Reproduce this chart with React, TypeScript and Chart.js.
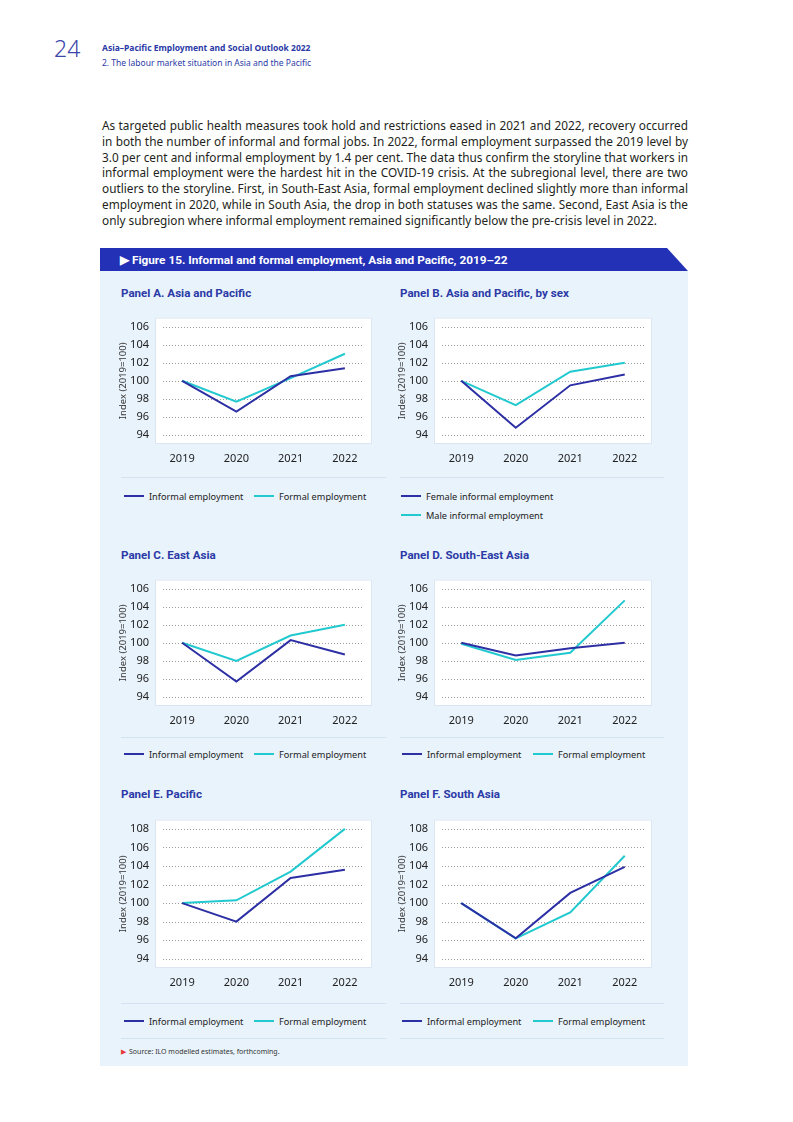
import React, { useEffect, useRef } from "react";
import { Chart, registerables } from "chart.js";

Chart.register(...registerables);
Chart.defaults.font.family = "'Noto Sans', sans-serif";

// ---------- data ----------
const YEARS = ["2019", "2020", "2021", "2022"];
const TICKS_SHORT = [94, 96, 98, 100, 102, 104, 106];
const TICKS_TALL = [94, 96, 98, 100, 102, 104, 106, 108];

const A_INFORMAL = [100, 96.6, 100.5, 101.4];
const A_FORMAL = [100, 97.7, 100.3, 103.0];
const B_FEMALE = [100, 94.8, 99.5, 100.7];
const B_MALE = [100, 97.3, 101.0, 102.0];
const C_INFORMAL = [100, 95.7, 100.3, 98.7];
const C_FORMAL = [100, 98.0, 100.8, 102.0];
const D_INFORMAL = [100, 98.6, 99.4, 100.0];
const D_FORMAL = [99.9, 98.1, 98.9, 104.7];
const E_INFORMAL = [100, 98.0, 102.7, 103.6];
const E_FORMAL = [100, 100.3, 103.4, 108.0];
const F_INFORMAL = [100, 96.2, 101.1, 103.9];
const F_FORMAL = [100, 96.2, 99.0, 105.1];

const DARK = "#2d30a4";
const CYAN = "#22c9cf";
const TITLE_BLUE = "#2b3aa6";
const BAR_BLUE = "#2231b6";
const BG = "#e9f3fc";
const SEP = "#d3e2f1";

type Series = { label: string; data: number[]; color: string };

const plotBox = {
  id: "plotBox",
  beforeDatasetsDraw(chart: any) {
    const { ctx, chartArea } = chart;
    const { left, right, top, bottom } = chartArea;
    ctx.save();
    ctx.fillStyle = "#ffffff";
    ctx.fillRect(left, top, right - left, bottom - top);
    ctx.strokeStyle = "#dbe6f2";
    ctx.lineWidth = 1;
    ctx.strokeRect(left + 0.5, top + 0.5, right - left - 1, bottom - top - 1);
    const y = chart.scales.y;
    ctx.strokeStyle = "#9a9a9a";
    ctx.setLineDash([1, 2]);
    y.ticks.forEach((t: any) => {
      const py = Math.round(y.getPixelForValue(t.value)) + 0.5;
      ctx.beginPath();
      ctx.moveTo(left + 8, py);
      ctx.lineTo(right - 8, py);
      ctx.stroke();
    });
    ctx.restore();
  },
};

function Panel(props: {
  left: number;
  top: number;
  width: number;
  height: number;
  padRight: number;
  min: number;
  max: number;
  ticks: number[];
  series: Series[];
}) {
  const ref = useRef<HTMLCanvasElement>(null);
  useEffect(() => {
    const chart = new Chart(ref.current as HTMLCanvasElement, {
      type: "line",
      data: {
        labels: YEARS,
        datasets: props.series.map((s) => ({
          label: s.label,
          data: s.data,
          borderColor: s.color,
          backgroundColor: s.color,
          borderWidth: 2,
          pointRadius: 0,
          tension: 0,
          fill: false,
        })),
      },
      options: {
        animation: false,
        responsive: false,
        maintainAspectRatio: false,
        layout: { padding: { top: 5, right: props.padRight, bottom: 0, left: 0 } },
        plugins: { legend: { display: false }, tooltip: { enabled: false } },
        scales: {
          x: {
            offset: true,
            grid: { display: false, drawTicks: false },
            border: { display: false },
            ticks: { padding: 8, color: "#222", font: { size: 11 } },
            afterFit: (s: any) => {
              s.height = 30;
            },
          },
          y: {
            min: props.min,
            max: props.max,
            grid: { display: false, drawTicks: false },
            border: { display: false },
            afterBuildTicks: (s: any) => {
              s.ticks = props.ticks.map((v) => ({ value: v }));
            },
            ticks: { padding: 6, color: "#222", font: { size: 11 } },
            title: {
              display: true,
              text: "Index (2019=100)",
              color: "#333",
              font: { size: 9.5 },
              padding: { top: 8, bottom: 0 },
            },
            afterFit: (s: any) => {
              s.width = 45;
            },
          },
        },
      } as any,
      plugins: [plotBox],
    });
    return () => chart.destroy();
  }, []);
  return (
    <canvas
      ref={ref}
      width={props.width}
      height={props.height}
      style={{
        position: "absolute",
        left: props.left,
        top: props.top,
        width: props.width,
        height: props.height,
      }}
    />
  );
}

function LegendItem(props: { x: number; y: number; color: string; text: string }) {
  return (
    <div
      style={{
        position: "absolute",
        left: props.x,
        top: props.y - 8,
        height: 16,
        display: "flex",
        alignItems: "center",
        whiteSpace: "nowrap",
        fontSize: 9.2,
        color: "#222",
      }}
    >
      <span style={{ display: "inline-block", width: 20, height: 2, background: props.color, marginRight: 5 }} />
      <span>{props.text}</span>
    </div>
  );
}

function Sep(props: { x: number; y: number; w: number }) {
  return <div style={{ position: "absolute", left: props.x, top: props.y, width: props.w, height: 1, background: SEP }} />;
}

function PanelTitle(props: { x: number; y: number; text: string }) {
  return (
    <div
      style={{
        position: "absolute",
        left: props.x,
        top: props.y - 8,
        fontFamily: "Roboto, 'Noto Sans', sans-serif",
        fontWeight: 700,
        fontSize: 11.6,
        color: TITLE_BLUE,
        whiteSpace: "nowrap",
        lineHeight: "16px",
      }}
    >
      {props.text}
    </div>
  );
}

const PARA =
  "As targeted public health measures took hold and restrictions eased in 2021 and 2022, recovery occurred in both the number of informal and formal jobs. In 2022, formal employment surpassed the 2019 level by 3.0 per cent and informal employment by 1.4 per cent. The data thus confirm the storyline that workers in informal employment were the hardest hit in the COVID-19 crisis. At the subregional level, there are two outliers to the storyline. First, in South-East Asia, formal employment declined slightly more than informal employment in 2020, while in South Asia, the drop in both statuses was the same. Second, East Asia is the only subregion where informal employment remained significantly below the pre-crisis level in 2022.";

export default function App() {
  const LX = 110;
  const RX = 389;
  return (
    <div
      style={{
        position: "absolute",
        left: 0,
        top: 0,
        width: 793,
        height: 1122,
        background: "#fff",
        overflow: "hidden",
        fontFamily: "'Noto Sans', sans-serif",
      }}
    >
      {/* header */}
      <div style={{ position: "absolute", left: 54, top: 33, fontSize: 23, fontWeight: 300, color: "#3a45a8", lineHeight: "30px" }}>24</div>
      <div style={{ position: "absolute", left: 102, top: 41, fontSize: 8.5, fontWeight: 700, color: TITLE_BLUE, lineHeight: "14px", whiteSpace: "nowrap" }}>
        Asia–Pacific Employment and Social Outlook 2022
      </div>
      <div style={{ position: "absolute", left: 102, top: 56, fontSize: 8.5, color: TITLE_BLUE, lineHeight: "14px", whiteSpace: "nowrap" }}>
        2. The labour market situation in Asia and the Pacific
      </div>

      {/* paragraph */}
      <div
        style={{
          position: "absolute",
          left: 102,
          top: 118,
          width: 586,
          fontSize: 11.8,
          lineHeight: "15.8px",
          textAlign: "justify",
          color: "#231f20",
        }}
      >
        {PARA}
      </div>

      {/* figure background */}
      <div style={{ position: "absolute", left: 100, top: 271, width: 588, height: 795, background: BG }} />
      <div
        style={{
          position: "absolute",
          left: 100,
          top: 248,
          width: 588,
          height: 23,
          background: BAR_BLUE,
          clipPath: "polygon(0 0, 567px 0, 588px 23px, 0 23px)",
        }}
      />
      <div
        style={{
          position: "absolute",
          left: 120,
          top: 252,
          color: "#fff",
          fontFamily: "Roboto, 'Noto Sans', sans-serif",
          fontWeight: 700,
          fontSize: 11.8,
          lineHeight: "16px",
          whiteSpace: "nowrap",
        }}
      >
        ▶ Figure 15. Informal and formal employment, Asia and Pacific, 2019–22
      </div>

      {/* row 1 */}
      <PanelTitle x={121} y={293} text="Panel A. Asia and Pacific" />
      <PanelTitle x={400} y={293} text="Panel B. Asia and Pacific, by sex" />
      <Panel left={LX} top={305} width={270} height={169} padRight={8} min={93} max={107} ticks={TICKS_SHORT}
        series={[{ label: "Informal employment", data: A_INFORMAL, color: DARK }, { label: "Formal employment", data: A_FORMAL, color: CYAN }]} />
      <Panel left={RX} top={305} width={270} height={169} padRight={7} min={93} max={107} ticks={TICKS_SHORT}
        series={[{ label: "Female informal employment", data: B_FEMALE, color: DARK }, { label: "Male informal employment", data: B_MALE, color: CYAN }]} />
      <Sep x={121} y={477} w={265} />
      <Sep x={400} y={477} w={264} />
      <LegendItem x={124} y={496} color={DARK} text="Informal employment" />
      <LegendItem x={254} y={496} color={CYAN} text="Formal employment" />
      <LegendItem x={401} y={496} color={DARK} text="Female informal employment" />
      <LegendItem x={401} y={515} color={CYAN} text="Male informal employment" />

      {/* row 2 */}
      <PanelTitle x={121} y={555} text="Panel C. East Asia" />
      <PanelTitle x={400} y={555} text="Panel D. South-East Asia" />
      <Panel left={LX} top={567} width={270} height={169} padRight={8} min={93} max={107} ticks={TICKS_SHORT}
        series={[{ label: "Informal employment", data: C_INFORMAL, color: DARK }, { label: "Formal employment", data: C_FORMAL, color: CYAN }]} />
      <Panel left={RX} top={567} width={270} height={169} padRight={7} min={93} max={107} ticks={TICKS_SHORT}
        series={[{ label: "Informal employment", data: D_INFORMAL, color: DARK }, { label: "Formal employment", data: D_FORMAL, color: CYAN }]} />
      <Sep x={121} y={737} w={265} />
      <Sep x={400} y={737} w={264} />
      <LegendItem x={124} y={754} color={DARK} text="Informal employment" />
      <LegendItem x={254} y={754} color={CYAN} text="Formal employment" />
      <LegendItem x={402} y={754} color={DARK} text="Informal employment" />
      <LegendItem x={533} y={754} color={CYAN} text="Formal employment" />

      {/* row 3 */}
      <PanelTitle x={121} y={794} text="Panel E. Pacific" />
      <PanelTitle x={400} y={794} text="Panel F. South Asia" />
      <Panel left={LX} top={807} width={270} height={191} padRight={8} min={93} max={109} ticks={TICKS_TALL}
        series={[{ label: "Informal employment", data: E_INFORMAL, color: DARK }, { label: "Formal employment", data: E_FORMAL, color: CYAN }]} />
      <Panel left={RX} top={807} width={270} height={191} padRight={7} min={93} max={109} ticks={TICKS_TALL}
        series={[{ label: "Informal employment", data: F_INFORMAL, color: DARK }, { label: "Formal employment", data: F_FORMAL, color: CYAN }]} />
      <Sep x={121} y={1003} w={265} />
      <Sep x={400} y={1003} w={264} />
      <LegendItem x={124} y={1021} color={DARK} text="Informal employment" />
      <LegendItem x={254} y={1021} color={CYAN} text="Formal employment" />
      <LegendItem x={402} y={1021} color={DARK} text="Informal employment" />
      <LegendItem x={533} y={1021} color={CYAN} text="Formal employment" />
      <Sep x={121} y={1038} w={265} />
      <Sep x={400} y={1038} w={264} />

      {/* source */}
      <div style={{ position: "absolute", left: 121, top: 1046, fontSize: 7, lineHeight: "12px", color: "#333", whiteSpace: "nowrap" }}>
        <span style={{ color: "#e53a3a", marginRight: 3 }}>▶</span>Source: ILO modelled estimates, forthcoming.
      </div>
    </div>
  );
}
